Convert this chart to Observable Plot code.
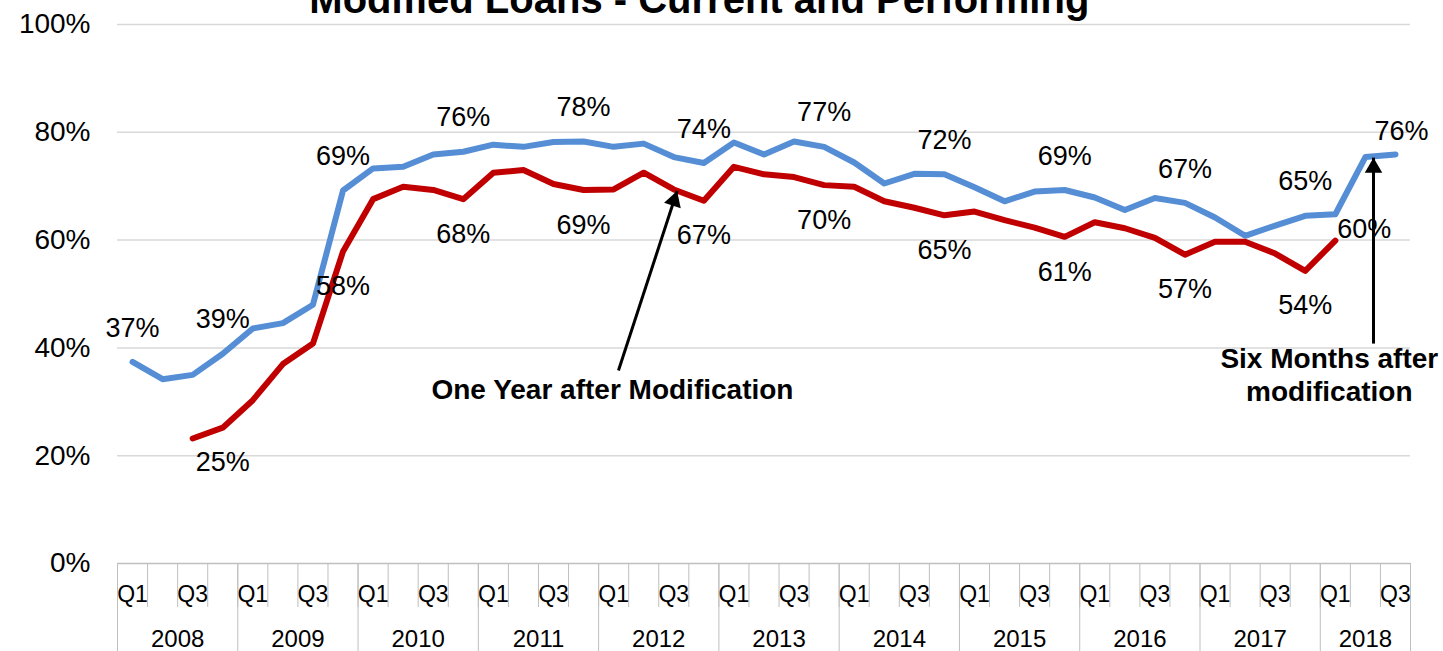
<!DOCTYPE html>
<html>
<head>
<meta charset="utf-8">
<script src="https://cdn.jsdelivr.net/npm/d3@7"></script>
<script src="https://cdn.jsdelivr.net/npm/@observablehq/plot@0.6"></script>
<style>
  html, body { margin: 0; padding: 0; background: #fff; overflow: hidden; }
</style>
</head>
<body>
<div id="chart"></div>
<script>
// ---- data ----
const title = "Modified Loans - Current and Performing";
const years = [2008, 2009, 2010, 2011, 2012, 2013, 2014, 2015, 2016, 2017, 2018];
const quarterNames = ["Q1", "Q2", "Q3", "Q4"];
const shownQuarterNames = ["Q1", "Q3"];
const yTicks = [0, 20, 40, 60, 80, 100];

// Six months after modification (blue), 2008 Q1 .. 2018 Q3
const sixMonths = [37.4, 34.2, 35.0, 38.9, 43.6, 44.6, 48.0, 69.2, 73.3, 73.6, 75.9, 76.4,
  77.7, 77.3, 78.2, 78.3, 77.3, 77.9, 75.4, 74.3, 78.1, 75.9, 78.3, 77.3,
  74.4, 70.5, 72.3, 72.2, 69.8, 67.2, 69.0, 69.3, 67.9, 65.6, 67.8, 66.9,
  64.2, 60.8, 62.7, 64.5, 64.8, 75.4, 75.9];
// One year after modification (red), 2008 Q1 .. 2018 Q1
const oneYear = [null, null, 23.2, 25.2, 30.3, 37.0, 40.8, 57.9, 67.6, 69.9, 69.3, 67.6,
  72.5, 73.0, 70.4, 69.3, 69.4, 72.5, 69.4, 67.3, 73.6, 72.2, 71.7, 70.2,
  69.9, 67.2, 66.0, 64.6, 65.3, 63.7, 62.3, 60.6, 63.3, 62.2, 60.4, 57.3,
  59.7, 59.7, 57.5, 54.3, 59.9];

const sixMonthsLabelIdx = [0, 3, 7, 11, 15, 19, 23, 27, 31, 35, 39];
const sixMonthsLastIdx = 42;
const oneYearLabelIdx = [3, 7, 11, 15, 19, 23, 27, 31, 35, 39];
const oneYearLastIdx = 40;

// annotations (x in quarter index units, y in %)
const oneYearNote = {text: "One Year after Modification", x: 16.46, y: 32.4};
const oneYearArrow = {x1: 16.66, y1: 35.8, x2: 18.61, y2: 69.1, angle: 18};
const sixMonthsNote = {text: "Six Months after\nmodification", x: 40.3, y: 35.2};
const sixMonthsArrow = {x1: 41.77, y1: 40.8, x2: 41.77, y2: 75.3, angle: 0};

// ---- derived tables ----
const nQ = sixMonths.length;
const quarters = d3.range(nQ).map(i => ({
  i, x: i + 0.5, year: years[Math.floor(i / 4)], q: quarterNames[i % 4]
}));
const blueData = sixMonths.map((v, i) => ({x: i + 0.5, v}));
const redData = oneYear.map((v, i) => ({x: i + 0.5, v}));
const qTicks = quarters.filter(d => shownQuarterNames.includes(d.q));
const qLabel = new Map(qTicks.map(d => [d.x, d.q]));
const yearInfo = years.map((y, k) => {
  const start = k * 4, end = Math.min(nQ, start + 4);
  return {year: y, start, end, center: (start + end) / 2};
});
const yearLabel = new Map(yearInfo.map(d => [d.center, String(d.year)]));
const yearBounds = [...yearInfo.map(d => d.start), nQ];

const BLUE = "#558ED5", RED = "#C00000";
const FONT = "'Liberation Sans', Arial, Helvetica, sans-serif";
const headOff = 10.1;

const chart = Plot.plot({
  width: 1443,
  height: 651,
  marginLeft: 117,
  marginRight: 33,
  marginTop: 24,
  marginBottom: 88,
  style: {fontFamily: FONT, color: "#000", background: "#fff"},
  x: {domain: [0, nQ]},
  y: {domain: [0, 100]},
  marks: [
    Plot.gridY(yTicks.filter(d => d > 0), {stroke: "#d9d9d9", strokeOpacity: 1, strokeWidth: 1.5}),
    Plot.axisY(yTicks, {tickSize: 0, tickPadding: 27, tickFormat: d => d + "%", fontSize: 28}),
    // category tick lines
    Plot.axisX(d3.range(0, nQ + 1), {tickSize: 44, stroke: "#bfbfbf", strokeOpacity: 1, tickFormat: () => ""}),
    Plot.axisX(yearBounds, {tickSize: 90, stroke: "#bfbfbf", strokeOpacity: 1, tickFormat: () => ""}),
    Plot.axisX(qTicks.map(d => d.x), {tickSize: 0, tickPadding: 22, tickFormat: x => qLabel.get(x), fontSize: 23}),
    Plot.axisX(yearInfo.map(d => d.center), {tickSize: 0, tickPadding: 66, tickFormat: x => yearLabel.get(x), fontSize: 24}),
    Plot.ruleY([0], {stroke: "#bfbfbf", strokeWidth: 1.5}),
    // series
    Plot.line(blueData, {x: "x", y: "v", stroke: BLUE, strokeWidth: 6}),
    Plot.line(redData, {x: "x", y: "v", stroke: RED, strokeWidth: 6}),
    // data labels
    Plot.text(sixMonthsLabelIdx.map(i => blueData[i]), {x: "x", y: "v", text: d => Math.round(d.v) + "%", dy: -34, fontSize: 27, fill: "#000"}),
    Plot.text([blueData[sixMonthsLastIdx]], {x: "x", y: "v", text: d => Math.round(d.v) + "%", dy: -23, dx: 6, fontSize: 27, fill: "#000"}),
    Plot.text(oneYearLabelIdx.map(i => redData[i]), {x: "x", y: "v", text: d => Math.round(d.v) + "%", dy: 35, fontSize: 27, fill: "#000"}),
    Plot.text([redData[oneYearLastIdx]], {x: "x", y: "v", text: d => Math.round(d.v) + "%", textAnchor: "start", dx: 2, dy: -11, fontSize: 27, fill: "#000"}),
    // annotations
    Plot.link([oneYearArrow, sixMonthsArrow], {x1: "x1", y1: "y1", x2: "x2", y2: "y2", stroke: "#000", strokeWidth: 3}),
    Plot.dot([oneYearArrow], {x: "x2", y: "y2", symbol: "triangle", r: 6.5, fill: "#000", rotate: "angle",
      dx: -Math.sin(oneYearArrow.angle * Math.PI / 180) * headOff, dy: Math.cos(oneYearArrow.angle * Math.PI / 180) * headOff}),
    Plot.dot([sixMonthsArrow], {x: "x2", y: "y2", symbol: "triangle", r: 6.5, fill: "#000", rotate: "angle", dy: headOff}),
    Plot.text([oneYearNote, sixMonthsNote], {x: "x", y: "y", text: "text", fontSize: 28, fontWeight: "bold", lineHeight: 1.18, fill: "#000"}),
    // title (cut off at the top as in the source)
    Plot.text([title], {x: () => 19.35, frameAnchor: "top", text: d => d, dy: -40, fontSize: 40, fontWeight: "bold", fill: "#000"})
  ]
});
document.getElementById("chart").appendChild(chart);
</script>
</body>
</html>
